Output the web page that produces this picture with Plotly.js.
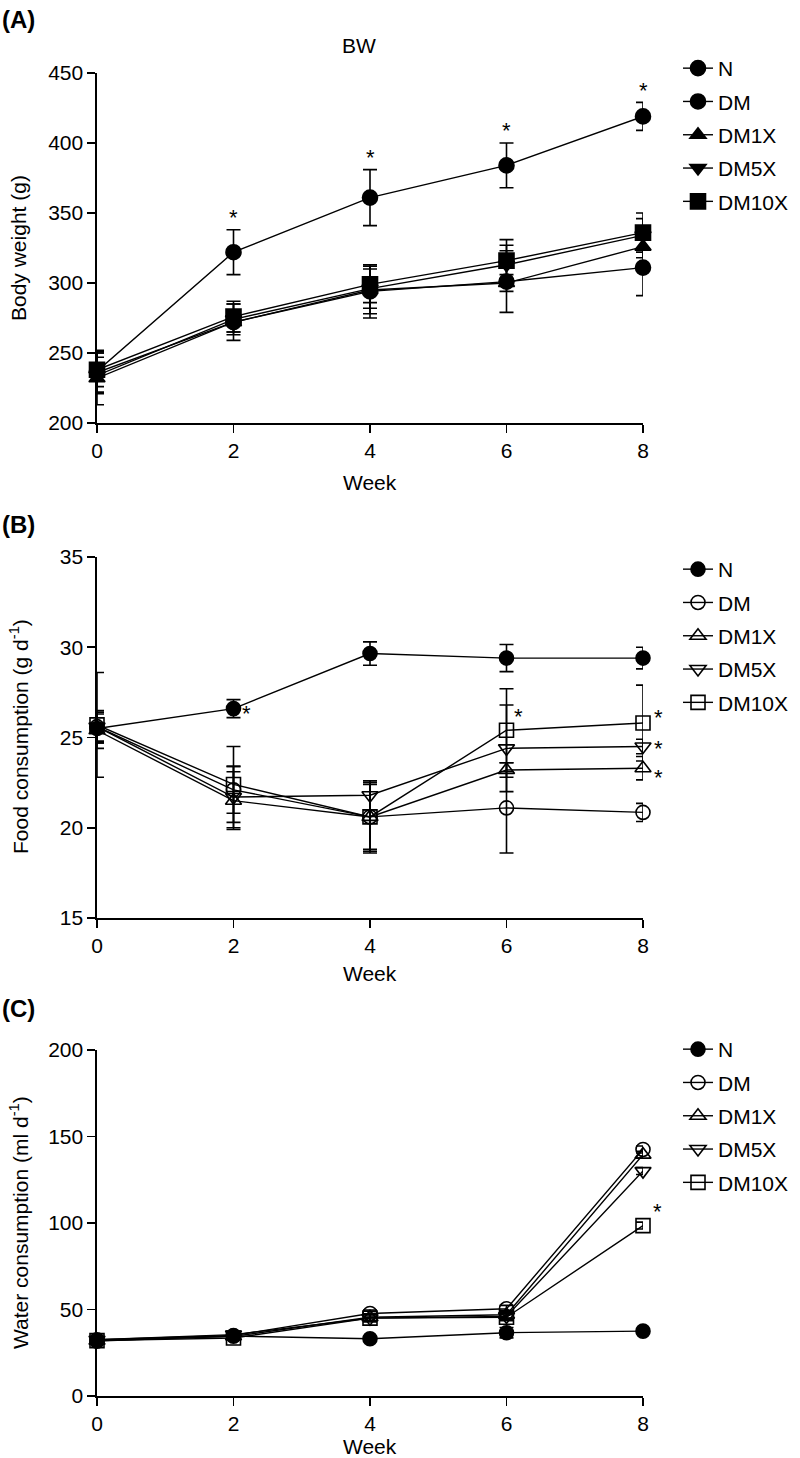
<!DOCTYPE html>
<html>
<head>
<meta charset="utf-8">
<script src="https://cdn.plot.ly/plotly-3.0.1.min.js"></script>
<style>html,body{margin:0;padding:0;background:#fff;}#chart{width:800px;height:1458px;}</style>
</head>
<body>
<div id="chart"></div>
<script>
// ---------- data ----------
const weeks = [0, 2, 4, 6, 8];
const groups = ["N", "DM", "DM1X", "DM5X", "DM10X"];

// (A) Body weight (g)
const bwN     = [237, 322, 361, 384, 419];
const bwNErr  = [15, 16, 20, 16, 10];
const bwDM    = [236, 272, 294, 301, 311];
const bwDMErr = [14, 7, 19, 22, 20];
const bwDM1X    = [232, 272, 295, 300, 326];
const bwDM1XErr = [19, 13, 17, 6, 8];
const bwDM5X    = [234, 274, 296, 313, 334];
const bwDM5XErr = [13, 11, 14, 14, 12];
const bwDM10X    = [238, 276, 299, 316, 336];
const bwDM10XErr = [12, 11, 13, 15, 14];

// (B) Food consumption (g/d)
const fcN     = [25.5, 26.6, 29.65, 29.4, 29.4];
const fcNErr  = [0.8, 0.5, 0.65, 0.75, 0.6];
const fcDM    = [25.6, 22.1, 20.6, 21.1, 20.85];
const fcDMErr = [0.9, 1.3, 1.9, 2.5, 0.5];
const fcDM1X    = [25.4, 21.5, 20.6, 23.2, 23.3];
const fcDM1XErr = [1.0, 1.6, 1.8, 0.4, 0.65];
const fcDM5X    = [25.6, 21.7, 21.8, 24.4, 24.5];
const fcDM5XErr = [0.8, 1.7, 0.8, 2.4, 0.4];
const fcDM10X    = [25.7, 22.4, 20.6, 25.4, 25.8];
const fcDM10XErr = [2.9, 2.1, 2.0, 2.3, 2.1];

// (C) Water consumption (ml/d)
const wcN     = [31.7, 34.6, 33.1, 36.6, 37.5];
const wcNErr  = [1, 1, 1, 3, 1];
const wcDM    = [32.5, 35, 47.7, 50.4, 142.5];
const wcDMErr = [1, 1, 2, 2, 2];
const wcDM1X    = [32, 34.5, 45.5, 47, 139.5];
const wcDM1XErr = [1, 1, 2, 2, 2];
const wcDM5X    = [32.5, 35.5, 45, 46, 130];
const wcDM5XErr = [1, 1, 2, 2, 2];
const wcDM10X    = [32, 33.5, 45, 45.5, 98.5];
const wcDM10XErr = [1, 1, 2, 2, 2];

// ---------- styling ----------
const FONT = "Liberation Sans, Arial, sans-serif";
const FS = 21;
const symA = ["circle", "circle", "triangle-up", "triangle-down", "square"];
const symBC = ["circle", "circle-open", "triangle-up-open", "triangle-down-open", "square-open"];
const sizeA = [15, 15, 14, 14, 15];
const sizeBC = [14, 14, 14, 14, 14];

function mk(name, y, err, sym, size, xa, ya, leg, grp) {
  return {
    type: "scatter", mode: "lines+markers", name: name,
    x: weeks, y: y, xaxis: xa, yaxis: ya,
    legend: leg, legendgroup: grp, cliponaxis: false,
    line: {color: "#000", width: 1.4},
    marker: {symbol: sym, size: size, color: "#000", line: {color: "#000", width: 1.6}},
    error_y: {type: "data", array: err, visible: true, color: "#000", thickness: 1.6, width: 7}
  };
}

const A = [[bwN, bwNErr], [bwDM, bwDMErr], [bwDM1X, bwDM1XErr], [bwDM5X, bwDM5XErr], [bwDM10X, bwDM10XErr]];
const B = [[fcN, fcNErr], [fcDM, fcDMErr], [fcDM1X, fcDM1XErr], [fcDM5X, fcDM5XErr], [fcDM10X, fcDM10XErr]];
const C = [[wcN, wcNErr], [wcDM, wcDMErr], [wcDM1X, wcDM1XErr], [wcDM5X, wcDM5XErr], [wcDM10X, wcDM10XErr]];

const traces = [];
A.forEach((d, i) => traces.push(mk(groups[i], d[0], d[1], symA[i], sizeA[i], "x", "y", "legend", "a" + i)));
B.forEach((d, i) => traces.push(mk(groups[i], d[0], d[1], symBC[i], sizeBC[i], "x2", "y2", "legend2", "b" + i)));
C.forEach((d, i) => traces.push(mk(groups[i], d[0], d[1], symBC[i], sizeBC[i], "x3", "y3", "legend3", "c" + i)));

const H = 1458, W = 800;
const px2y = p => (H - p) / H;
const xDom = [97 / W, 643 / W];

function xax(anchor) {
  return {
    domain: xDom, anchor: anchor, range: [0, 8], tickvals: weeks,
    showline: true, linecolor: "#000", linewidth: 1.6, ticks: "outside", ticklen: 8,
    tickwidth: 1.6, tickcolor: "#000", showgrid: false, zeroline: false,
    tickfont: {family: FONT, size: FS, color: "#000"}, fixedrange: true
  };
}
function yax(anchor, dom, range, dtick) {
  return {
    domain: dom, anchor: anchor, range: range, dtick: dtick, tick0: range[0],
    showline: true, linecolor: "#000", linewidth: 1.6, ticks: "outside", ticklen: 8,
    tickwidth: 1.6, tickcolor: "#000", showgrid: false, zeroline: false,
    tickfont: {family: FONT, size: FS, color: "#000"}, fixedrange: true
  };
}

function legend(topPx) {
  return {
    x: 678 / W, xanchor: "left", y: px2y(topPx), yanchor: "top",
    font: {family: FONT, size: FS, color: "#000"}, bgcolor: "rgba(0,0,0,0)",
    traceorder: "grouped", tracegroupgap: 3, borderwidth: 0
  };
}

function txt(text, x, y, opts) {
  return Object.assign({text: text, x: x, y: y, xref: "paper", yref: "paper",
    xanchor: "center", yanchor: "middle",
    showarrow: false, font: {family: FONT, size: FS, color: "#000"}}, opts || {});
}
function star(xr, yr, x, y, xs, ys) {
  return {text: "*", x: x, y: y, xref: xr, yref: yr, showarrow: false,
    xanchor: "center", yanchor: "middle",
    xshift: xs, yshift: ys, font: {family: FONT, size: 22, color: "#000"}};
}

const PL = {family: FONT, size: 24, color: "#000"};
const annotations = [
  txt("<b>(A)</b>", 0, px2y(19), {xanchor: "left", font: PL}),
  txt("<b>(B)</b>", 0, px2y(524), {xanchor: "left", font: PL}),
  txt("<b>(C)</b>", 0, px2y(1009), {xanchor: "left", font: PL}),
  txt("BW", 359 / W, px2y(45)),
  txt("Body weight (g)", 19 / W, px2y(248), {textangle: -90}),
  txt("Food consumption (g d<sup>-1</sup>)", 19 / W, px2y(737), {textangle: -90}),
  txt("Water consumption (ml d<sup>-1</sup>)", 19 / W, px2y(1223), {textangle: -90}),
  txt("Week", 370 / W, px2y(482)),
  txt("Week", 370 / W, px2y(973)),
  txt("Week", 370 / W, px2y(1446))
];
// asterisks (A): above N error bars at weeks 2-8
for (let i = 1; i < weeks.length; i++) annotations.push(star("x", "y", weeks[i], bwN[i] + bwNErr[i], 0, 12));
// (B)
annotations.push(star("x2", "y2", weeks[1], fcN[1], 13, -5));
annotations.push(star("x2", "y2", weeks[3], fcDM10X[3], 12, 14));
annotations.push(star("x2", "y2", weeks[4], fcDM10X[4], 15, 6));
annotations.push(star("x2", "y2", weeks[4], fcDM5X[4], 15, -2));
annotations.push(star("x2", "y2", weeks[4], fcDM1X[4], 15, -9));
// (C)
annotations.push(star("x3", "y3", weeks[4], wcDM10X[4], 14, 14));

const layout = {
  width: W, height: H, margin: {l: 0, r: 0, t: 0, b: 0},
  paper_bgcolor: "#fff", plot_bgcolor: "#fff",
  font: {family: FONT, size: FS, color: "#000"},
  xaxis: xax("y"), yaxis: yax("x", [px2y(423), px2y(73)], [200, 450], 50),
  xaxis2: xax("y2"), yaxis2: yax("x2", [px2y(918), px2y(557)], [15, 35], 5),
  xaxis3: xax("y3"), yaxis3: yax("x3", [px2y(1396), px2y(1050)], [0, 200], 50),
  legend: legend(48), legend2: legend(549), legend3: legend(1029),
  annotations: annotations, showlegend: true
};

Plotly.newPlot("chart", traces, layout, {staticPlot: true, displayModeBar: false});
</script>
</body>
</html>
